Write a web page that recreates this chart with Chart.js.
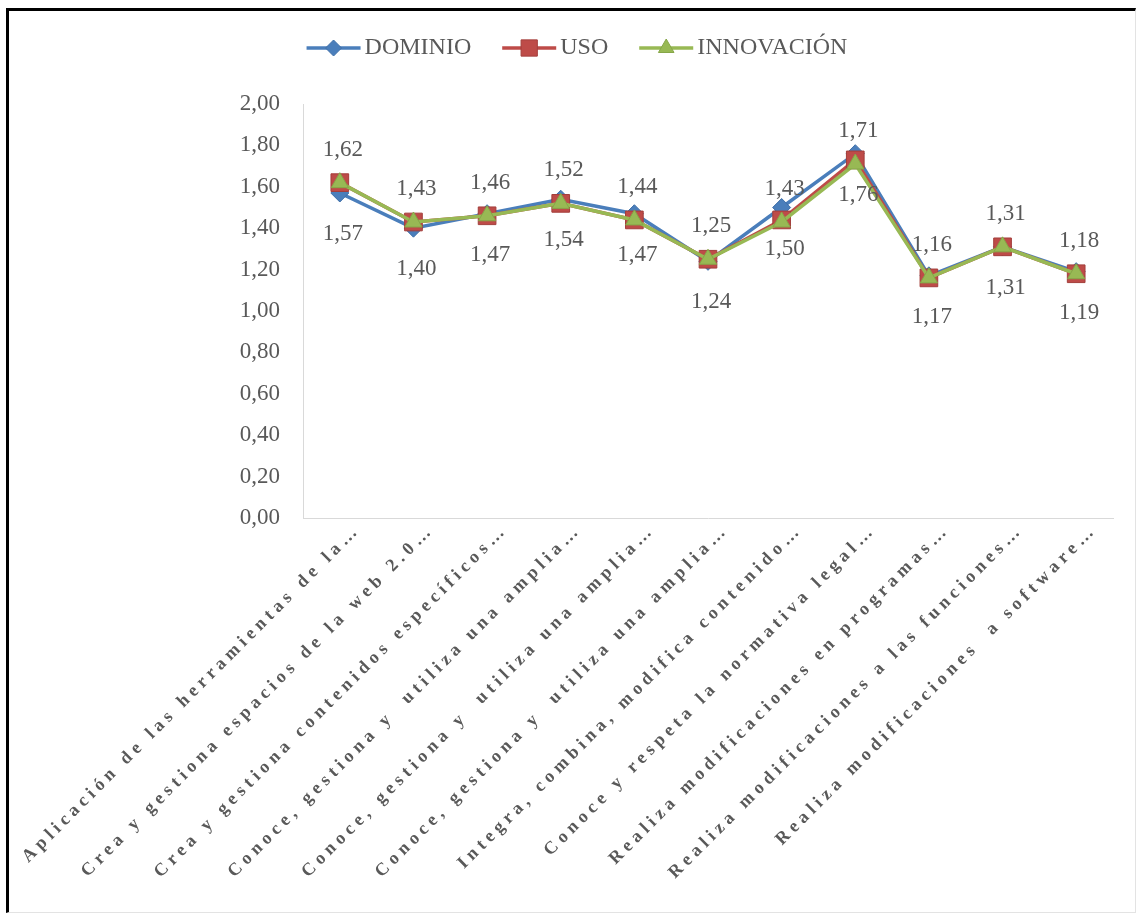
<!DOCTYPE html>
<html>
<head>
<meta charset="utf-8">
<script src="https://cdn.jsdelivr.net/npm/chart.js@4.4.1/dist/chart.umd.min.js"></script>
<style>
  html, body { margin: 0; padding: 0; background: #fff; }
  #frame {
    position: absolute; left: 6px; top: 8px;
    width: 1130px; height: 905px; box-sizing: border-box;
    border-top: 3px solid #000; border-left: 3px solid #000;
    border-right: 1px solid #e3e3e3; border-bottom: 1px solid #e3e3e3;
  }
  canvas { display: block; }
</style>
</head>
<body>
<div id="frame"><canvas id="chart" width="1126" height="901"></canvas></div>
<script>
// Competencias evaluadas (etiquetas del eje X, recortadas con "…")
const categories = [
  'Aplicación de las herramientas de la…',
  'Crea y gestiona espacios de la web 2.0…',
  'Crea y gestiona contenidos específicos…',
  'Conoce, gestiona y  utiliza una amplia…',
  'Conoce, gestiona y  utiliza una amplia…',
  'Conoce, gestiona y  utiliza una amplia…',
  'Integra, combina, modifica contenido…',
  'Conoce y respeta la normativa legal…',
  'Realiza modificaciones en programas…',
  'Realiza modificaciones a las funciones…',
  'Realiza modificaciones  a software…'
];

// Medias por dimensión
const dominio    = [1.57, 1.40, 1.47, 1.54, 1.47, 1.24, 1.50, 1.76, 1.17, 1.31, 1.19];
const uso        = [1.62, 1.43, 1.46, 1.52, 1.44, 1.25, 1.44, 1.73, 1.16, 1.31, 1.18];
const innovacion = [1.62, 1.43, 1.46, 1.52, 1.44, 1.25, 1.43, 1.71, 1.16, 1.31, 1.18];

// Escala del eje Y
const yMin = 0;
const yMax = 2;
const yStep = 0.2;

const SERIF = '"Liberation Serif", "Times New Roman", serif';
const TEXT = '#595959';
const fmt = v => Number(v).toFixed(2).replace('.', ',');

// Etiquetas de valor: DOMINIO debajo del punto, INNOVACIÓN encima
const valueLabels = {
  id: 'valueLabels',
  afterDatasetsDraw(chart) {
    const ctx = chart.ctx;
    ctx.save();
    ctx.font = '23px ' + SERIF;
    ctx.fillStyle = TEXT;
    ctx.textAlign = 'center';
    ctx.textBaseline = 'middle';
    chart.data.datasets.forEach((ds, di) => {
      if (!ds.valueLabel) return;
      const shift = ds.valueLabel === 'below' ? 41 : -33;
      chart.getDatasetMeta(di).data.forEach((pt, i) => {
        ctx.fillText(fmt(ds.data[i]), pt.x + 3, pt.y + shift);
      });
    });
    ctx.restore();
  }
};

// Rótulos de categoría inclinados 45° con espaciado entre letras
const slantedCategories = {
  id: 'slantedCategories',
  afterDraw(chart) {
    const xs = chart.scales.x;
    const ctx = chart.ctx;
    const bottom = chart.chartArea.bottom;
    ctx.save();
    ctx.font = 'bold 18px ' + SERIF;
    ctx.fillStyle = TEXT;
    ctx.letterSpacing = '4.7px';
    ctx.textAlign = 'right';
    ctx.textBaseline = 'middle';
    chart.data.labels.forEach((label, i) => {
      const px = xs.getPixelForValue(i);
      ctx.save();
      ctx.translate(px + 18, bottom + 9);
      ctx.rotate(-Math.PI / 4);
      ctx.fillText(label, 0, 0);
      ctx.restore();
    });
    ctx.restore();
  }
};

// Leyenda superior con tramo de línea y marcador
const lineLegend = {
  id: 'lineLegend',
  afterDraw(chart) {
    const ctx = chart.ctx;
    ctx.save();
    ctx.font = '24px ' + SERIF;
    ctx.textBaseline = 'middle';
    const lineLen = 54, gapText = 4, gapItem = 31, y = 37;
    const items = chart.data.datasets.map(ds => ({ ds, w: ctx.measureText(ds.label).width }));
    const total = items.reduce((s, it) => s + lineLen + gapText + it.w, 0) + gapItem * (items.length - 1);
    let x = (chart.width - total) / 2 + 5;
    items.forEach(({ ds, w }) => {
      ctx.strokeStyle = ds.borderColor;
      ctx.lineWidth = ds.borderWidth;
      ctx.beginPath();
      ctx.moveTo(x, y);
      ctx.lineTo(x + lineLen, y);
      ctx.stroke();
      ctx.fillStyle = ds.pointBackgroundColor;
      ctx.strokeStyle = ds.pointBorderColor;
      ctx.lineWidth = 1;
      Chart.helpers.drawPoint(ctx, { pointStyle: ds.pointStyle, radius: ds.pointRadius - 1, borderWidth: 1, rotation: 0 }, x + lineLen / 2, y);
      ctx.fillStyle = TEXT;
      ctx.textAlign = 'left';
      ctx.fillText(ds.label, x + lineLen + gapText, y);
      x += lineLen + gapText + w + gapItem;
    });
    ctx.restore();
  }
};

new Chart(document.getElementById('chart'), {
  type: 'line',
  data: {
    labels: categories,
    datasets: [
      {
        label: 'DOMINIO', data: dominio, order: 2, valueLabel: 'below',
        borderColor: '#4A7EBB', borderWidth: 3.5,
        pointStyle: 'rectRot', pointRadius: 9,
        pointBackgroundColor: '#4A7EBB', pointBorderColor: '#3F6FA8', pointBorderWidth: 1
      },
      {
        label: 'USO', data: uso, order: 1,
        borderColor: '#BE4B48', borderWidth: 3.5,
        pointStyle: 'rect', pointRadius: 12.5,
        pointBackgroundColor: '#BE4B48', pointBorderColor: '#A33E3B', pointBorderWidth: 1
      },
      {
        label: 'INNOVACIÓN', data: innovacion, order: 0, valueLabel: 'above',
        borderColor: '#98B954', borderWidth: 3.5,
        pointStyle: 'triangle', pointRadius: 10,
        pointBackgroundColor: '#98B954', pointBorderColor: '#86A648', pointBorderWidth: 1
      }
    ]
  },
  options: {
    responsive: false,
    animation: false,
    events: [],
    layout: { padding: { top: 93, right: 22, left: 0, bottom: 0 } },
    plugins: {
      legend: { display: false },
      tooltip: { enabled: false }
    },
    elements: { line: { tension: 0 } },
    scales: {
      x: {
        type: 'category',
        offset: true,
        ticks: { display: false },
        grid: { display: true, color: 'rgba(0,0,0,0)', drawTicks: false },
        border: { display: true, color: '#D9D9D9', width: 1 },
        afterFit(s) { s.height = 394; }
      },
      y: {
        min: yMin, max: yMax,
        ticks: {
          stepSize: yStep, padding: 23, color: TEXT,
          font: { family: SERIF, size: 23 },
          callback: v => fmt(v)
        },
        grid: { display: true, color: 'rgba(0,0,0,0)', drawTicks: false },
        border: { display: true, color: '#D9D9D9', width: 1 },
        afterFit(s) { s.width = 294; }
      }
    }
  },
  plugins: [valueLabels, slantedCategories, lineLegend]
});
</script>
</body>
</html>
